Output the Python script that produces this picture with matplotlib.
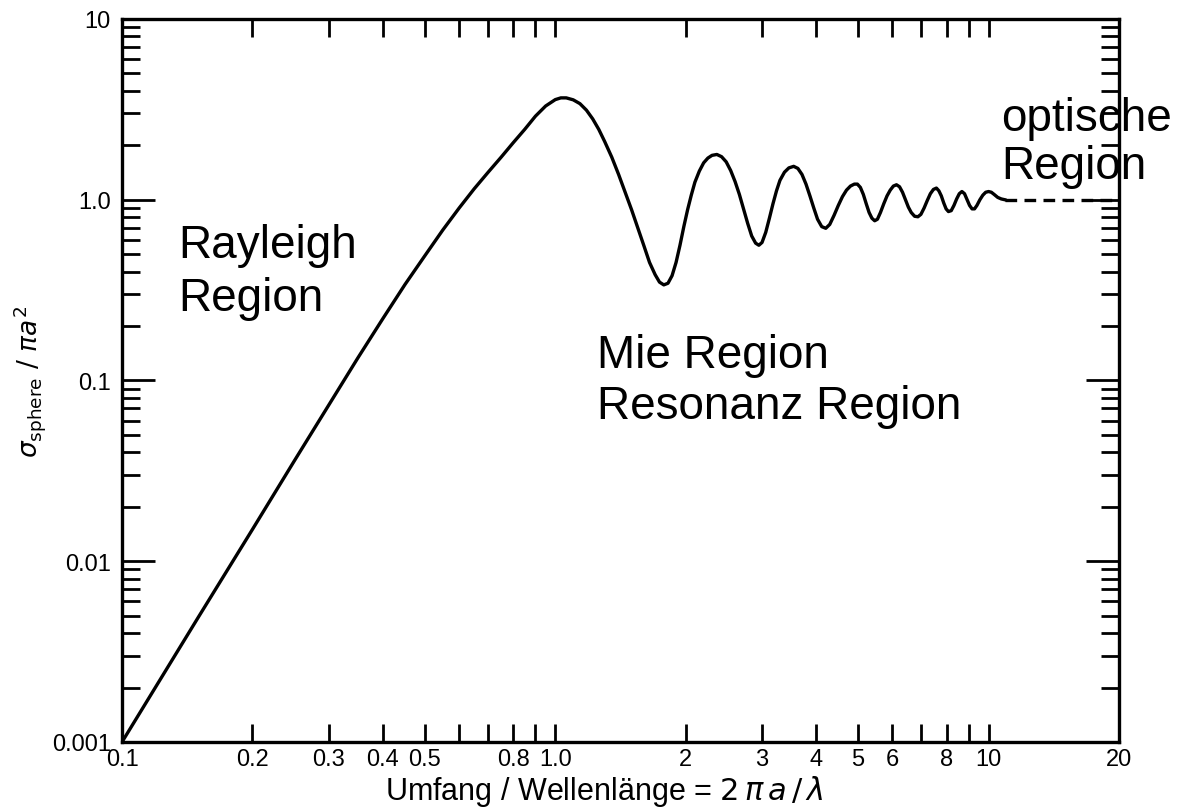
import matplotlib
matplotlib.use("Agg")
import matplotlib.pyplot as plt
from matplotlib.ticker import FixedLocator, FixedFormatter, LogLocator, NullFormatter

# (x = 2*pi*a/lambda, y = sigma / pi a^2)
ka = [0.10, 0.15, 0.20, 0.25, 0.30, 0.35, 0.40, 0.45, 0.50, 0.55, 0.60, 0.65,
      0.70, 0.75, 0.80, 0.85, 0.90, 0.95, 1.00, 1.03, 1.06, 1.10, 1.14, 1.18,
      1.22, 1.26, 1.30, 1.35, 1.40, 1.45, 1.50, 1.55, 1.60, 1.65, 1.70, 1.74,
      1.78, 1.82, 1.86, 1.90, 1.94, 1.98, 2.02, 2.06, 2.10, 2.15, 2.20, 2.25,
      2.30, 2.36, 2.42, 2.48, 2.54, 2.60, 2.66, 2.72, 2.78, 2.84, 2.90, 2.95,
      3.00, 3.06, 3.12, 3.18, 3.24, 3.30, 3.38, 3.46, 3.55, 3.63, 3.71, 3.79,
      3.87, 3.95, 4.03, 4.12, 4.21, 4.30, 4.40, 4.50, 4.60, 4.70, 4.80, 4.90,
      4.98, 5.06, 5.14, 5.22, 5.30, 5.38, 5.46, 5.54, 5.63, 5.73, 5.83, 5.93,
      6.03, 6.13, 6.23, 6.33, 6.43, 6.53, 6.63, 6.75, 6.87, 6.98, 7.10, 7.22,
      7.34, 7.46, 7.58, 7.68, 7.78, 7.88, 7.98, 8.08, 8.20, 8.32, 8.44, 8.56,
      8.68, 8.80, 8.92, 9.04, 9.16, 9.28, 9.40, 9.55, 9.70, 9.85, 10.0, 10.15,
      10.3, 10.5, 10.7, 10.9]
rcs = [0.0010, 0.0049, 0.0150, 0.036, 0.073, 0.133, 0.22, 0.34, 0.49, 0.68,
       0.90, 1.15, 1.42, 1.72, 2.07, 2.45, 2.90, 3.30, 3.58, 3.66, 3.66, 3.57,
       3.40, 3.13, 2.80, 2.45, 2.10, 1.72, 1.38, 1.10, 0.88, 0.70, 0.56, 0.45,
       0.385, 0.35, 0.338, 0.345, 0.38, 0.45, 0.56, 0.71, 0.88, 1.06, 1.25,
       1.44, 1.60, 1.70, 1.76, 1.78, 1.73, 1.62, 1.45, 1.26, 1.07, 0.89, 0.74,
       0.63, 0.575, 0.56, 0.58, 0.66, 0.79, 0.95, 1.12, 1.28, 1.42, 1.50, 1.53,
       1.49, 1.38, 1.22, 1.05, 0.90, 0.78, 0.71, 0.695, 0.73, 0.82, 0.93, 1.04,
       1.13, 1.19, 1.22, 1.22, 1.17, 1.07, 0.95, 0.85, 0.79, 0.765, 0.78, 0.85,
       0.95, 1.05, 1.13, 1.19, 1.21, 1.18, 1.10, 1.00, 0.91, 0.85, 0.81, 0.805,
       0.83, 0.90, 0.99, 1.08, 1.14, 1.16, 1.12, 1.05, 0.96, 0.89, 0.86, 0.87,
       0.93, 1.01, 1.08, 1.11, 1.08, 1.00, 0.93, 0.89, 0.89, 0.93, 1.00, 1.06,
       1.10, 1.11, 1.10, 1.07, 1.03, 1.01, 1.00]

# optical limit (dashed)
ka_opt = [10.9, 20.0]
rcs_opt = [1.0, 1.0]

x_ticks = [0.1, 0.2, 0.3, 0.4, 0.5, 0.6, 0.7, 0.8, 0.9, 1.0,
           2, 3, 4, 5, 6, 7, 8, 9, 10, 20]
x_labels = ["0.1", "0.2", "0.3", "0.4", "0.5", "", "", "0.8", "", "1.0",
            "2", "3", "4", "5", "6", "", "8", "", "10", "20"]
y_ticks = [0.001, 0.01, 0.1, 1.0, 10]
y_labels = ["0.001", "0.01", "0.1", "1.0", "10"]

plt.rcParams["font.family"] = ["Liberation Sans", "DejaVu Sans"]

fig = plt.figure(figsize=(11.87, 8.12), dpi=100)
ax = fig.add_axes([0.1028, 0.085, 0.8399, 0.8904])

ax.plot(ka, rcs, color="black", lw=2.4, solid_joinstyle="round")
ax.plot(ka_opt, rcs_opt, color="black", lw=2.4, ls=(0, (3.5, 2.2)))

ax.set_xscale("log")
ax.set_yscale("log")
ax.set_xlim(0.1, 20)
ax.set_ylim(0.001, 10)

ax.xaxis.set_major_locator(FixedLocator(x_ticks))
ax.xaxis.set_major_formatter(FixedFormatter(x_labels))
ax.xaxis.set_minor_locator(FixedLocator([]))
ax.yaxis.set_major_locator(FixedLocator(y_ticks))
ax.yaxis.set_major_formatter(FixedFormatter(y_labels))
ax.yaxis.set_minor_locator(LogLocator(base=10, subs=range(2, 10)))
ax.yaxis.set_minor_formatter(NullFormatter())

ax.tick_params(axis="x", which="major", direction="in", length=13, width=2,
               top=True, labelsize=17, pad=4)
ax.tick_params(axis="y", which="major", direction="in", length=24, width=2,
               right=True, labelsize=17, pad=8)
ax.tick_params(axis="y", which="minor", direction="in", length=13, width=2,
               right=True)
for sp in ax.spines.values():
    sp.set_linewidth(2.4)

ax.set_xlabel(r"Umfang / Wellenlänge = $2\,\pi\, a\,/\,\lambda$", fontsize=22)
ax.xaxis.set_label_coords(0.484, -0.043)
ax.set_ylabel(r"$\sigma_{\rm sphere}\ /\ \pi a^2$", fontsize=19)
ax.yaxis.set_label_coords(-0.074, 0.5)

ax.text(0.056, 0.718, "Rayleigh\nRegion", transform=ax.transAxes,
        fontsize=33, va="top", ha="left", linespacing=1.28)
ax.text(0.476, 0.565, "Mie Region\nResonanz Region", transform=ax.transAxes,
        fontsize=33, va="top", ha="left", linespacing=1.19)
ax.text(0.882, 0.893, "optische\nRegion", transform=ax.transAxes,
        fontsize=33, va="top", ha="left", linespacing=1.1, clip_on=False)

fig.savefig("out.png", dpi=100)
